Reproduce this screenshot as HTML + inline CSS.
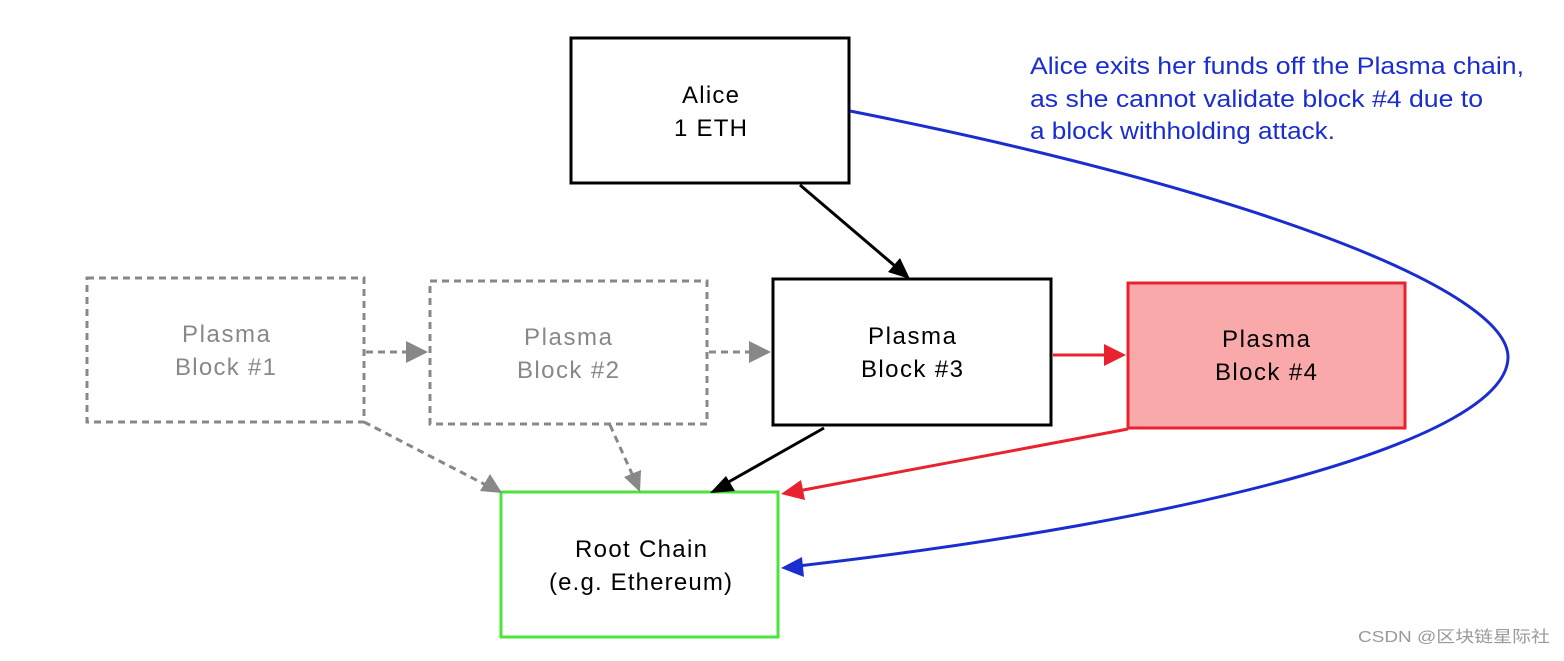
<!DOCTYPE html>
<html><head><meta charset="utf-8"><style>
body{margin:0;background:#fff;width:1564px;height:656px;overflow:hidden}
svg text{font-family:"Liberation Sans","DejaVu Sans",sans-serif}
</style></head><body>
<svg width="1564" height="656" viewBox="0 0 1564 656" xmlns="http://www.w3.org/2000/svg">
<g fill="none" stroke-width="3">
<rect x="571" y="38" width="278" height="145" stroke="#000" fill="#fff"/>
<rect x="773" y="279" width="278" height="146" stroke="#000" fill="#fff"/>
<rect x="1128" y="283" width="277" height="145" stroke="#e8222e" fill="#f9a9a9"/>
<rect x="87" y="278" width="277" height="144" stroke="#888" stroke-dasharray="7,5"/>
<rect x="430" y="281" width="277" height="143" stroke="#888" stroke-dasharray="7,5"/>
<rect x="501" y="492" width="277" height="145" stroke="#4be33c" fill="#fff"/>
</g>
<g stroke-width="3" fill="none">
<line x1="800" y1="185" x2="895" y2="266" stroke="#000"/>
<line x1="824" y1="428" x2="725" y2="484" stroke="#000"/>
<line x1="1053" y1="355" x2="1110" y2="355" stroke="#e8222e"/>
<line x1="1128" y1="429" x2="798" y2="491" stroke="#e8222e"/>
<g stroke="#888" stroke-dasharray="7,5">
<line x1="366" y1="352" x2="412" y2="352"/>
<line x1="709" y1="352" x2="755" y2="352"/>
<line x1="364" y1="422" x2="486" y2="485"/>
<line x1="610" y1="425" x2="633" y2="476"/>
</g>
<path d="M850,111 C1250,190 1510,290 1508,358 C1505,440 1200,520 798,566" stroke="#1a2ed0"/>
</g>
<g>
<polygon points="910,279 888,272 900,258" fill="#000"/>
<polygon points="710,493 726,476 735,491" fill="#000"/>
<polygon points="1126,355 1104,344 1104,366" fill="#e8222e"/>
<polygon points="781,494 801,480 805,500" fill="#e8222e"/>
<polygon points="428,352 406,341 406,363" fill="#888"/>
<polygon points="771,352 749,341 749,363" fill="#888"/>
<polygon points="502,493 480,491 490,474" fill="#888"/>
<polygon points="640,492 624,477 641,470" fill="#888"/>
<polygon points="781,568 802,557 804,577" fill="#1a2ed0"/>
</g>
<g font-size="24" lengthAdjust="spacingAndGlyphs">
<text x="682" y="103" textLength="57">Alice</text><text x="674" y="136" textLength="73">1 ETH</text>
<text x="868" y="344" textLength="88">Plasma</text><text x="861" y="377" textLength="102">Block #3</text>
<text x="1222" y="347" textLength="88">Plasma</text><text x="1215" y="380" textLength="102">Block #4</text>
<text x="182" y="342" fill="#888" textLength="88">Plasma</text><text x="175" y="375" fill="#888" textLength="101">Block #1</text>
<text x="524" y="345" fill="#888" textLength="88">Plasma</text><text x="517" y="378" fill="#888" textLength="102">Block #2</text>
<text x="575" y="557" textLength="132">Root Chain</text><text x="549" y="590" textLength="183">(e.g. Ethereum)</text>
</g>
<g font-size="24" fill="#1a2ed0">
<text x="1030" y="74" textLength="494" lengthAdjust="spacingAndGlyphs">Alice exits her funds off the Plasma chain,</text>
<text x="1030" y="107" textLength="453" lengthAdjust="spacingAndGlyphs">as she cannot validate block #4 due to</text>
<text x="1030" y="139" textLength="305" lengthAdjust="spacingAndGlyphs">a block withholding attack.</text>
</g>
<text x="1358" y="642" font-size="16" fill="#999" textLength="192" lengthAdjust="spacingAndGlyphs" style='font-family:"Liberation Sans","Noto Sans CJK SC",sans-serif'>CSDN @区块链星际社</text>
</svg>
</body></html>
